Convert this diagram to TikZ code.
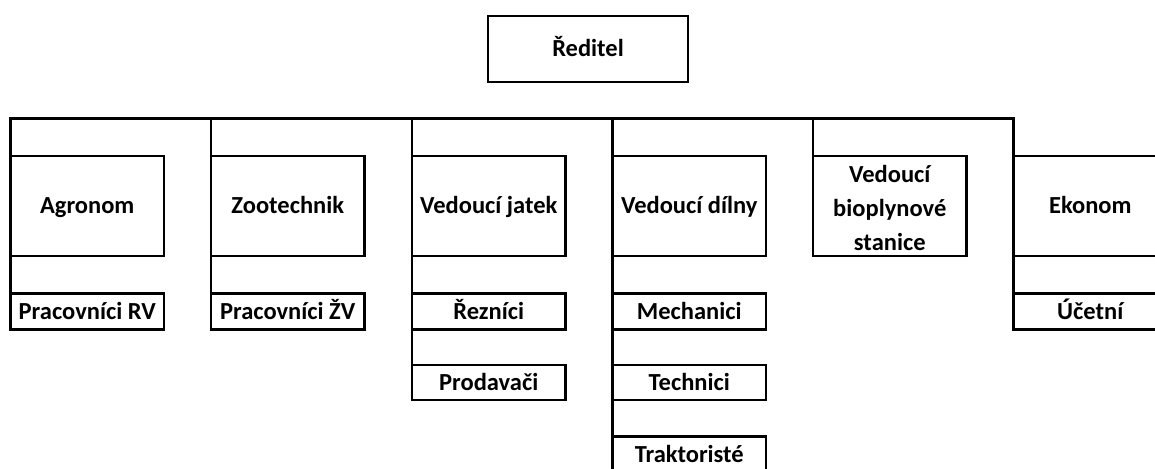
\documentclass[tikz,border=0pt]{standalone}
\usepackage{fontspec}
\setmainfont{Carlito}
\begin{document}
\begin{tikzpicture}[x=1pt,y=-1pt,
  box/.style={draw,line width=2.8pt,inner sep=0pt,outer sep=0pt,anchor=north west,
    font=\fontsize{24.5}{34}\selectfont\bfseries,align=center},
  one/.style={text height=15.8pt,text depth=0pt},
  mainbox/.style={box,minimum width=153.5pt,minimum height=100pt},
  subbox/.style={box,one,minimum width=153.5pt,minimum height=36pt},
  conn/.style={line width=2.8pt,line cap=rect}]
\useasboundingbox (0,0) rectangle (1155,468);
\clip (0,0) rectangle (1155,468);
\node[box,one,minimum width=200pt,minimum height=66pt] (red) at (488,16) {Ředitel};
\coordinate (bus) at (0,118.5);
\node[mainbox,one] (agr) at (10.5,156) {Agronom};
\node[mainbox,one] (zoo) at (211,156) {Zootechnik};
\node[mainbox,one] (jat) at (412,156) {Vedoucí jatek};
\node[mainbox,one] (dil) at (612.5,156) {Vedoucí dílny};
\node[mainbox,text height=88pt,text depth=0pt] (bio) at (813,156) {Vedoucí\\bioplynové\\stanice};
\node[mainbox,one] (eko) at (1013.5,156) {Ekonom};
\node[subbox] (prv) at (10.5,293.5) {Pracovníci RV};
\node[subbox] (pzv) at (211,293.5) {Pracovníci ŽV};
\node[subbox] (rez) at (412,293.5) {Řezníci};
\node[subbox,minimum height=35pt] (pro) at (412,365) {Prodavači};
\node[subbox] (mec) at (612.5,293.5) {Mechanici};
\node[subbox,minimum height=35pt] (tec) at (612.5,365) {Technici};
\node[subbox] (tra) at (612.5,436.5) {Traktoristé};
\node[subbox] (uce) at (1013.5,293.5) {Účetní};
\draw[conn] (agr.north west) -- (agr.north west |- bus) -- (eko.north west |- bus) -- (eko.north west);
\foreach \n in {zoo,jat,dil,bio}
  \draw[conn] (\n.north west |- bus) -- (\n.north west);
\draw[conn] (agr.south west) -- (prv.north west);
\draw[conn] (zoo.south west) -- (pzv.north west);
\draw[conn] (jat.south west) -- (rez.north west);
\draw[conn] (rez.south west) -- (pro.north west);
\draw[conn] (dil.south west) -- (mec.north west);
\draw[conn] (mec.south west) -- (tec.north west);
\draw[conn] (tec.south west) -- (tra.north west);
\draw[conn] (eko.south west) -- (uce.north west);
\end{tikzpicture}
\end{document}
